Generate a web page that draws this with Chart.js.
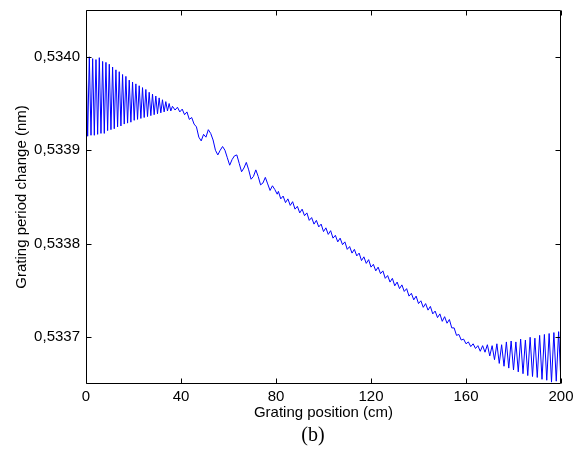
<!DOCTYPE html>
<html>
<head>
<meta charset="utf-8">
<script src="https://cdn.jsdelivr.net/npm/chart.js@4.4.1/dist/chart.umd.min.js"></script>
<style>
  body { margin: 0; background: #fff; }
  #myChart { display: block; }
</style>
</head>
<body>
<canvas id="myChart" width="583" height="449"></canvas>
<script>
// tick labels
const xTicks = [0, 40, 80, 120, 160, 200];
const yTicks = [0.5337, 0.5338, 0.5339, 0.534];

// grating position (cm)
const positionCm = [
  0, 0.7, 1.4, 2.1, 2.8, 3.5, 4.2, 4.9, 5.6, 6.3, 7, 7.7, 8.4, 9.1, 9.8, 10.5, 11.2, 11.9, 12.6, 13.3,
  14, 14.7, 15.4, 16.1, 16.8, 17.5, 18.2, 18.9, 19.6, 20.3, 21, 21.7, 22.4, 23.1, 23.8, 24.5, 25.2, 25.9,
  26.6, 27.3, 28, 28.7, 29.4, 30.1, 30.8, 31.5, 32.2, 32.9, 33.6, 34.3, 35, 35.7, 36.4,
  37.5, 38.5, 39.5, 40.5, 41.5, 42.5, 43.5, 44.5, 45.5, 46.5, 47.5, 48.5, 49.5, 50.5, 51.5, 52.5,
  53.5, 54.5, 55.5, 56.5, 57.5, 58.5, 59.5, 60.5, 61.5, 62.5, 63.5, 64.5, 65.5, 66.5, 67.5, 68.5,
  69.5, 70.5, 71.5, 72.5, 73.5, 74.5, 75.5, 76.5, 77.5, 78.5, 79.5, 80.5,
  81, 82, 83, 84, 85, 86, 87, 88, 89, 90, 91, 92, 93, 94, 95, 96, 97, 98, 99, 100,
  101, 102, 103, 104, 105, 106, 107, 108, 109, 110, 111, 112, 113, 114, 115, 116, 117, 118, 119, 120,
  121, 122, 123, 124, 125, 126, 127, 128, 129, 130, 131, 132, 133, 134, 135, 136, 137, 138, 139, 140,
  141, 142, 143, 144, 145, 146, 147, 148, 149, 150,
  151, 152, 153, 154, 155, 156, 157, 158, 159, 160, 161, 162, 163, 164, 165, 166,
  167, 168, 169, 170, 171, 172, 173, 174, 175, 176, 177, 178, 179, 180, 181, 182, 183, 184, 185, 186,
  187, 188, 189, 190, 191, 192, 193, 194, 195, 196, 197, 198, 199, 200
];

// grating period change (nm)
const periodNm = [
  0.534003, 0.533915, 0.534000, 0.533916, 0.533998, 0.533916, 0.533997, 0.533917, 0.533999, 0.533918,
  0.533995, 0.533918, 0.533994, 0.533921, 0.533992, 0.533922, 0.533989, 0.533923, 0.533986, 0.533925,
  0.533984, 0.533926, 0.533981, 0.533928, 0.533979, 0.533929, 0.533975, 0.533930, 0.533973, 0.533932,
  0.533971, 0.533933, 0.533969, 0.533934, 0.533967, 0.533935, 0.533965, 0.533936, 0.533962, 0.533937,
  0.533960, 0.533938, 0.533958, 0.533939, 0.533956, 0.533940, 0.533954, 0.533941, 0.533952, 0.533942,
  0.533950, 0.533942, 0.533947,
  0.533943, 0.533946, 0.533941, 0.533944, 0.533938, 0.533941, 0.533933, 0.533935, 0.533928, 0.533925,
  0.533914, 0.533910, 0.533917, 0.533914, 0.533922, 0.533918,
  0.533911, 0.533900, 0.533895, 0.533900, 0.533904, 0.533900, 0.533892, 0.533884, 0.533890, 0.533894,
  0.533895, 0.533886, 0.533877, 0.533881, 0.533887, 0.533879, 0.533869, 0.533872, 0.533879, 0.533872,
  0.533863, 0.533865, 0.533871, 0.533864, 0.533857, 0.533862, 0.533858, 0.533853,
  0.533856, 0.533848, 0.533851, 0.533844, 0.533848, 0.533841, 0.533845, 0.533837, 0.533840, 0.533833,
  0.533837, 0.533830, 0.533833, 0.533825, 0.533828, 0.533821, 0.533825, 0.533818, 0.533821, 0.533813,
  0.533817, 0.533810, 0.533814, 0.533806, 0.533809, 0.533802, 0.533806, 0.533799, 0.533802, 0.533794,
  0.533797, 0.533790, 0.533794, 0.533787, 0.533790, 0.533782, 0.533786, 0.533779, 0.533783, 0.533775,
  0.533778, 0.533771, 0.533775, 0.533768, 0.533771, 0.533763, 0.533766, 0.533759, 0.533763, 0.533755,
  0.533759, 0.533752, 0.533756, 0.533749, 0.533752, 0.533744, 0.533747, 0.533740, 0.533744, 0.533736,
  0.533739, 0.533732, 0.533736, 0.533729, 0.533733, 0.533725, 0.533728, 0.533721, 0.533725, 0.533717,
  0.533722, 0.533715, 0.533719, 0.533710, 0.533710, 0.533702, 0.533703, 0.533697, 0.533698, 0.533693,
  0.533695, 0.533690, 0.533693, 0.533688, 0.533691, 0.533685,
  0.533691, 0.533684, 0.533692, 0.533680, 0.533691, 0.533676, 0.533693, 0.533672, 0.533692, 0.533669,
  0.533695, 0.533667, 0.533696, 0.533665, 0.533695, 0.533663, 0.533698, 0.533661, 0.533697, 0.533659,
  0.533700, 0.533658, 0.533699, 0.533657, 0.533702, 0.533655, 0.533703, 0.533654, 0.533704, 0.533652,
  0.533705, 0.533653, 0.533706, 0.533651
];

const points = positionCm.map((x, i) => ({ x: x, y: periodNm[i] }));

Chart.defaults.font.family = '"Liberation Sans", Arial, sans-serif';
Chart.defaults.font.size = 15;
Chart.defaults.color = "#000";

// matlab style box with ticks pointing inward, plus the (b) caption
const boxPlugin = {
  id: "box",
  afterDraw(chart) {
    const ctx = chart.ctx;
    const a = chart.chartArea;
    const sx = chart.scales.x;
    const sy = chart.scales.y;
    const l = Math.round(a.left) + 0.5;
    const r = Math.round(a.right) - 0.5;
    const t = Math.round(a.top) + 0.5;
    const b = Math.round(a.bottom) - 0.5;
    ctx.save();
    ctx.strokeStyle = "#000";
    ctx.lineWidth = 1;
    ctx.beginPath();
    ctx.rect(l, t, r - l, b - t);
    xTicks.forEach((v) => {
      const px = Math.round(sx.getPixelForValue(v)) + 0.5;
      ctx.moveTo(px, b);
      ctx.lineTo(px, b - 5);
      ctx.moveTo(px, t);
      ctx.lineTo(px, t + 5);
    });
    yTicks.forEach((v) => {
      const py = Math.round(sy.getPixelForValue(v)) + 0.5;
      ctx.moveTo(l, py);
      ctx.lineTo(l + 5, py);
      ctx.moveTo(r, py);
      ctx.lineTo(r - 5, py);
    });
    ctx.stroke();
    ctx.fillStyle = "#000";
    ctx.font = '20px "Liberation Serif", "Times New Roman", serif';
    ctx.textAlign = "center";
    ctx.textBaseline = "middle";
    ctx.fillText("(b)", 313, 436);
    ctx.restore();
  },
};

const ctx = document.getElementById("myChart").getContext("2d");
const myChart = new Chart(ctx, {
  type: "line",
  data: {
    datasets: [
      {
        data: points,
        borderColor: "#0000ff",
        borderWidth: 1,
        pointRadius: 0,
        tension: 0,
        fill: false,
      },
    ],
  },
  options: {
    responsive: false,
    animation: false,
    layout: { padding: { left: 0, top: 10, right: 22, bottom: 0 } },
    plugins: { legend: { display: false }, tooltip: { enabled: false } },
    scales: {
      x: {
        type: "linear",
        min: 0,
        max: 200,
        grid: { display: false, drawTicks: false },
        border: { display: false },
        ticks: { padding: 4, maxRotation: 0 },
        afterBuildTicks: (scale) => {
          scale.ticks = xTicks.map((v) => ({ value: v }));
        },
        afterFit: (scale) => {
          scale.height = 65;
          scale.paddingLeft = 0;
          scale.paddingRight = 0;
        },
        title: { display: true, text: "Grating position (cm)", padding: 27 },
      },
      y: {
        type: "linear",
        min: 0.53365,
        max: 0.53405,
        grid: { display: false, drawTicks: false },
        border: { display: false },
        ticks: {
          padding: 6,
          callback: (v) => v.toFixed(4).replace(".", ","),
        },
        afterBuildTicks: (scale) => {
          scale.ticks = yTicks.map((v) => ({ value: v }));
        },
        afterFit: (scale) => {
          scale.width = 86;
          scale.paddingTop = 0;
          scale.paddingBottom = 0;
        },
        title: { display: true, text: "Grating period change (nm)", padding: 13 },
      },
    },
  },
  plugins: [boxPlugin],
});
</script>
</body>
</html>
